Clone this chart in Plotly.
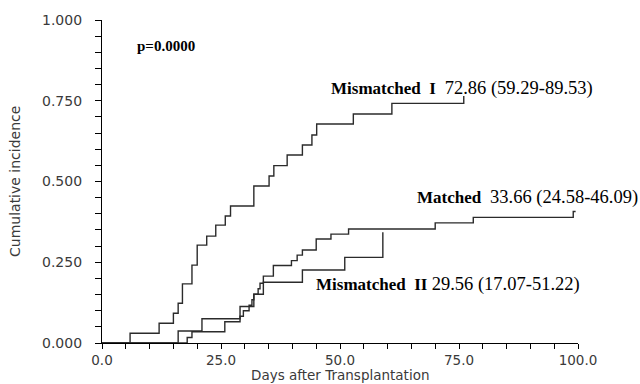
import plotly.graph_objects as go

# Cumulative incidence step curves (day, value) per donor-match group
matched_days = [0, 17.9, 18.9, 25.8, 29.0, 29.7, 30.9, 31.5, 31.9, 32.8, 33.2, 33.9, 36.0, 39.8, 41.0, 42.1, 45.0, 48.1, 51.8, 70.0, 78.0, 99.0, 99.5]
matched_vals = [0, 0.017, 0.035, 0.066, 0.083, 0.100, 0.117, 0.134, 0.151, 0.168, 0.185, 0.207, 0.240, 0.255, 0.272, 0.288, 0.322, 0.337, 0.353, 0.372, 0.389, 0.407, 0.407]

mis1_days = [0, 5.9, 12.0, 15.0, 16.0, 16.9, 18.9, 20.0, 22.0, 23.9, 25.9, 27.0, 31.9, 35.1, 36.1, 38.9, 42.1, 44.1, 45.1, 52.8, 60.9, 76.0]
mis1_vals = [0, 0.030, 0.061, 0.092, 0.123, 0.183, 0.241, 0.303, 0.331, 0.365, 0.393, 0.424, 0.486, 0.517, 0.549, 0.582, 0.613, 0.644, 0.678, 0.709, 0.742, 0.765]

mis2_days = [0, 16.0, 21.0, 29.0, 31.9, 33.9, 42.1, 51.0, 59.0]
mis2_vals = [0, 0.037, 0.075, 0.113, 0.151, 0.188, 0.226, 0.265, 0.343]

y_ticks = [0, 0.25, 0.5, 0.75, 1.0]
x_ticks = [0, 25, 50, 75, 100]

line_color = "#2b2b2b"
text_gray = "#3a3a3a"
serif = "Liberation Serif, Times New Roman, serif"
sans = "DejaVu Sans, Arial, sans-serif"

fig = go.Figure()
for xs, ys in [(matched_days, matched_vals), (mis1_days, mis1_vals), (mis2_days, mis2_vals)]:
    fig.add_trace(go.Scatter(x=xs, y=ys, mode="lines", line=dict(shape="hv", color=line_color, width=1.4),
                             showlegend=False, hoverinfo="skip"))

fig.update_layout(
    width=640, height=384,
    margin=dict(l=102, r=62, t=20, b=41),
    paper_bgcolor="white", plot_bgcolor="white",
    font=dict(family=sans, size=14, color=text_gray),
)
fig.update_xaxes(
    range=[0, 100], tickvals=x_ticks, ticktext=[f"{v:.1f}" for v in x_ticks],
    showgrid=False, zeroline=False, showline=True, linecolor="black", linewidth=1.2,
    ticks="outside", ticklen=5, tickcolor="black", ticklabelstandoff=0,
    minor=dict(dtick=5, ticks="outside", ticklen=5, tickcolor="black", showgrid=False),
    tickfont=dict(family=sans, size=13.5, color=text_gray),
)
fig.update_yaxes(
    range=[0, 1], tickvals=y_ticks, ticktext=[f"{v:.3f}" for v in y_ticks],
    showgrid=False, zeroline=False, showline=True, linecolor="black", linewidth=1.2,
    ticks="outside", ticklen=6, tickcolor="black", ticklabelstandoff=10,
    minor=dict(dtick=0.05, ticks="outside", ticklen=6, tickcolor="black", showgrid=False),
    tickfont=dict(family=sans, size=14, color=text_gray),
)


def group_label(name, stats):
    # bold group name followed by the estimate and its confidence interval
    return f"<b>{name}</b>&nbsp;<span style='font-size:18.5px'>{stats}</span>"


label_font = dict(family=serif, size=17, color="black")
annotations = [
    dict(x=7.0, y=0.92, xref="x", yref="y", text="<b>p=0.0000</b>", showarrow=False,
         xanchor="left", yanchor="middle", font=dict(family=serif, size=15, color="black")),
    dict(x=47.6, y=0.789, xref="x", yref="y",
         text=group_label("Mismatched&nbsp;&nbsp;I", "&nbsp;72.86 (59.29-89.53)"), showarrow=False,
         xanchor="left", yanchor="middle", font=label_font),
    dict(x=65.7, y=0.452, xref="x", yref="y",
         text=group_label("Matched", "&nbsp;33.66 (24.58-46.09)"), showarrow=False,
         xanchor="left", yanchor="middle", font=label_font),
    dict(x=44.6, y=0.180, xref="x", yref="y",
         text=group_label("Mismatched&nbsp;&nbsp;II", "29.56 (17.07-51.22)"), showarrow=False,
         xanchor="left", yanchor="middle", font=label_font),
    dict(x=15, y=182, xref="paper", yref="paper", text="Cumulative incidence", showarrow=False,
         textangle=-90, font=dict(family=sans, size=14, color=text_gray)),
    dict(x=340, y=375, xref="paper", yref="paper", text="Days after Transplantation", showarrow=False,
         font=dict(family=sans, size=13.5, color=text_gray)),
]
# convert pixel-based axis title positions to paper fractions
pw, ph = 640 - 102 - 62, 384 - 20 - 41
for a in annotations:
    if a["xref"] == "paper":
        a["x"] = (a["x"] - 102) / pw
        a["y"] = 1 - (a["y"] - 20) / ph
        a["xanchor"] = "center"
        a["yanchor"] = "middle"
fig.update_layout(annotations=annotations)

fig.write_html("out.html")
